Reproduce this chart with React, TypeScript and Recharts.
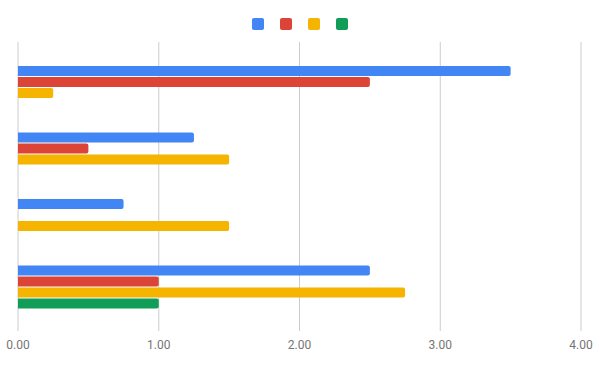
import { BarChart, Bar, XAxis, YAxis, CartesianGrid, Legend } from 'recharts';

// category labels are not shown in the chart
const categories = ['A', 'B', 'C', 'D'];
const seriesNames = ['Series 1', 'Series 2', 'Series 3', 'Series 4'];
const seriesColors = ['#4285F4', '#DB4437', '#F4B400', '#0F9D58'];
const series1 = [3.5, 1.25, 0.75, 2.5];
const series2 = [2.5, 0.5, 0, 1.0];
const series3 = [0.25, 1.5, 1.5, 2.75];
const series4 = [0, 0, 0, 1.0];
const xTicks = [0, 1, 2, 3, 4];

const values = [series1, series2, series3, series4];
const data = categories.map((name, i) => {
  const row: Record<string, string | number> = { name };
  seriesNames.forEach((s, j) => {
    row[s] = values[j][i];
  });
  return row;
});

const LegendSquares = () => (
  <div style={{ display: 'flex', justifyContent: 'center', gap: 16, paddingTop: 18, height: 30, boxSizing: 'border-box' }}>
    {seriesNames.map((s, i) => (
      <div key={s} style={{ width: 12, height: 12, borderRadius: 2, background: seriesColors[i] }} />
    ))}
  </div>
);

export default function App() {
  return (
    <div style={{ position: 'absolute', left: 0, top: 0 }}>
      <BarChart
        width={600}
        height={371}
        data={data}
        layout="vertical"
        margin={{ top: 12, right: 19, left: 18, bottom: 0 }}
        barSize={10}
        barGap={1}
      >
        <CartesianGrid horizontal={false} stroke="#cccccc" />
        <XAxis
          type="number"
          domain={[0, 4]}
          ticks={xTicks}
          tickFormatter={(v: number) => v.toFixed(2)}
          axisLine={false}
          tickLine={false}
          tickSize={0}
          tickMargin={9}
          height={40}
          tick={{ fill: '#757575', fontSize: 12, fontFamily: 'Roboto' }}
        />
        <YAxis
          type="category"
          dataKey="name"
          width={0}
          tick={false}
          tickLine={false}
          axisLine={{ stroke: '#333333' }}
          padding={{ top: 12, bottom: 11 }}
        />
        <Legend
          verticalAlign="top"
          content={<LegendSquares />}
          wrapperStyle={{ top: 0, left: 0, width: 600, height: 30 }}
        />
        {seriesNames.map((s, i) => (
          <Bar key={s} dataKey={s} fill={seriesColors[i]} radius={[0, 2, 2, 0]} isAnimationActive={false} />
        ))}
      </BarChart>
    </div>
  );
}
